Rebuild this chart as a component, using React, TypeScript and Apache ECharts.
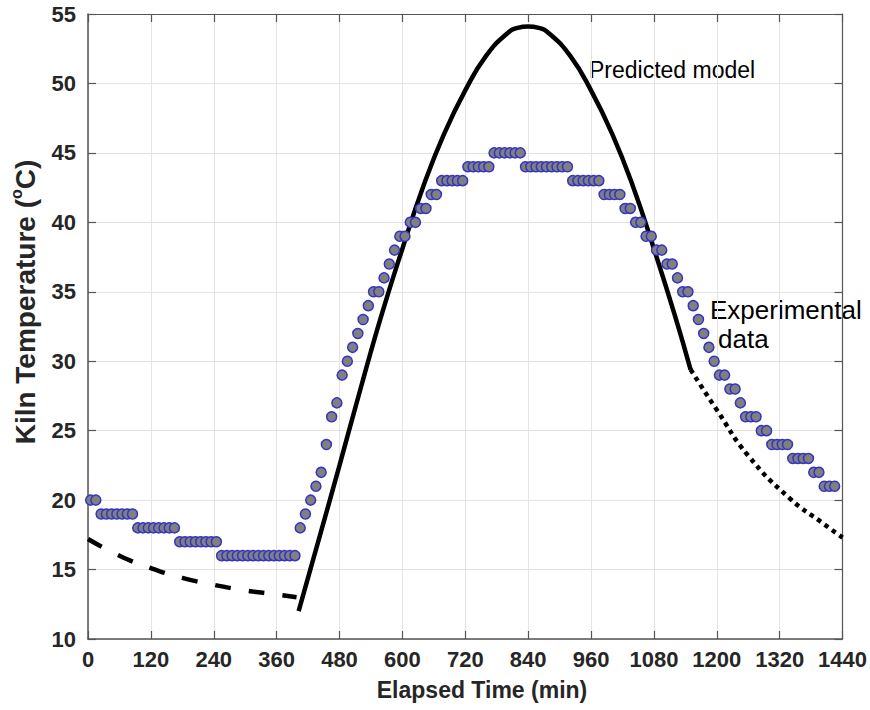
import React, { useEffect, useRef } from "react";
import * as echarts from "echarts";

// Experimental data: sampled every 10 min, first sample at 5 min
const FIRST_MIN = 5;
const STEP_MIN = 10;
const expTemps = [
  20, 20,
  19, 19, 19, 19, 19, 19, 19,
  18, 18, 18, 18, 18, 18, 18, 18,
  17, 17, 17, 17, 17, 17, 17, 17,
  16, 16, 16, 16, 16, 16, 16, 16, 16, 16, 16, 16, 16, 16, 16,
  18, 19, 20, 21, 22, 24, 26, 27, 29, 30, 31, 32, 33, 34, 35, 35, 36, 37, 38, 39, 39, 40, 40, 41, 41, 42, 42,
  43, 43, 43, 43, 43,
  44, 44, 44, 44, 44,
  45, 45, 45, 45, 45, 45,
  44, 44, 44, 44, 44, 44, 44, 44, 44,
  43, 43, 43, 43, 43, 43,
  42, 42, 42, 42,
  41, 41, 40, 40, 39, 39, 38, 38, 37, 37, 36, 35, 35, 34, 33, 32, 31, 30, 29, 29, 28, 28, 27,
  26, 26, 26, 25, 25,
  24, 24, 24, 24,
  23, 23, 23, 23,
  22, 22,
  21, 21, 21,
];

// Predicted model, three pieces
const modelEarlyTimes = [0, 60, 120, 180, 240, 300, 360, 398];
const modelEarlyTemps = [17.2, 16.0, 15.1, 14.4, 13.9, 13.5, 13.2, 13.0];

const modelMainTimes = [402, 440, 480, 520, 560, 600, 640, 680, 720, 760, 800, 820, 840, 860, 880, 920, 960, 1000, 1040, 1080, 1120, 1150];
const modelMainTemps = [12.0, 17.1, 22.5, 28.0, 33.3, 38.1, 42.6, 46.4, 49.5, 52.0, 53.6, 54.0, 54.1, 54.0, 53.6, 52.0, 49.5, 46.4, 42.6, 38.1, 33.3, 29.4];

const modelLateTimes = [1150, 1200, 1260, 1340, 1400, 1440];
const modelLateTemps = [29.4, 26.5, 23.2, 20.1, 18.4, 17.3];

const xMin = 0, xMax = 1440, xStep = 120;
const yMin = 10, yMax = 55, yStep = 5;

const pairs = (xs: number[], ys: number[]) => xs.map((x, i) => [x, ys[i]]);

export default function App() {
  const ref = useRef<HTMLDivElement>(null);
  useEffect(() => {
    if (!ref.current) return;
    const chart = echarts.init(ref.current, undefined, { renderer: "svg" });
    const axisColor = "#555555";
    const gridColor = "#e3e3e3";
    const fam = "'Liberation Sans', Arial, Helvetica, sans-serif";
    const tickFont = { fontFamily: fam, fontWeight: "bold" as const, fontSize: 22, color: "#262626" };
    chart.setOption({
      animation: false,
      backgroundColor: "#ffffff",
      grid: { left: 88, right: 26, top: 14, bottom: 71, containLabel: false },
      xAxis: [
        {
          type: "value", min: xMin, max: xMax, interval: xStep,
          axisLine: { show: true, lineStyle: { color: axisColor, width: 1.5 } },
          axisTick: { show: true, inside: true, length: 8, lineStyle: { color: axisColor, width: 1.2 } },
          axisLabel: { ...tickFont, margin: 9, formatter: (v: number) => String(v) },
          splitLine: { show: true, lineStyle: { color: gridColor, width: 1 } },
        },
        {
          type: "value", position: "top", min: xMin, max: xMax, interval: xStep,
          axisLine: { show: true, onZero: false, lineStyle: { color: axisColor, width: 1.2 } },
          axisTick: { show: true, inside: true, length: 8, lineStyle: { color: axisColor, width: 1.2 } },
          axisLabel: { show: false }, splitLine: { show: false },
        },
      ],
      yAxis: [
        {
          type: "value", min: yMin, max: yMax, interval: yStep,
          axisLine: { show: true, lineStyle: { color: axisColor, width: 1.5 } },
          axisTick: { show: true, inside: true, length: 8, lineStyle: { color: axisColor, width: 1.2 } },
          axisLabel: { ...tickFont, margin: 12, formatter: (v: number) => String(v) },
          splitLine: { show: true, lineStyle: { color: gridColor, width: 1 } },
        },
        {
          type: "value", position: "right", min: yMin, max: yMax, interval: yStep,
          axisLine: { show: true, onZero: false, lineStyle: { color: axisColor, width: 1.2 } },
          axisTick: { show: true, inside: true, length: 8, lineStyle: { color: axisColor, width: 1.2 } },
          axisLabel: { show: false }, splitLine: { show: false },
        },
      ],
      series: [
        {
          type: "line", name: "Model (early)", data: pairs(modelEarlyTimes, modelEarlyTemps),
          smooth: true, showSymbol: false, z: 3,
          lineStyle: { color: "#000000", width: 4.5, type: [16, 18] },
        },
        {
          type: "line", name: "Predicted model", data: pairs(modelMainTimes, modelMainTemps),
          smooth: true, showSymbol: false, z: 3,
          lineStyle: { color: "#000000", width: 4.5, type: "solid" },
        },
        {
          type: "line", name: "Model (late)", data: pairs(modelLateTimes, modelLateTemps),
          smooth: true, showSymbol: false, z: 3,
          lineStyle: { color: "#000000", width: 4.5, type: [4.5, 4.5] },
        },
        {
          type: "scatter", name: "Experimental data",
          data: expTemps.map((v, i) => [FIRST_MIN + STEP_MIN * i, v]),
          symbol: "circle", symbolSize: 10, z: 4,
          itemStyle: { color: "#808080", borderColor: "#3434c4", borderWidth: 1.5, opacity: 1 },
        },
      ],
      graphic: [
        {
          type: "text", x: 482, y: 690,
          style: { text: "Elapsed Time (min)", font: `bold 23px ${fam}`, fill: "#262626", align: "center", verticalAlign: "middle" },
        },
        {
          type: "text", x: 25, y: 302, rotation: Math.PI / 2,
          style: {
            text: "{a|Kiln Temperature (}{s|o}{a|C)}",
            align: "center", verticalAlign: "middle",
            rich: {
              a: { fontFamily: fam, fontWeight: "bold", fontSize: 28, lineHeight: 34, fill: "#262626" },
              s: { fontFamily: fam, fontWeight: "bold", fontSize: 16, lineHeight: 34, verticalAlign: "top", fill: "#262626" },
            },
          },
        },
        {
          type: "text", x: 589, y: 70,
          style: { text: "Predicted model", font: `23px ${fam}`, fill: "#000000", align: "left", verticalAlign: "middle" },
        },
        {
          type: "text", x: 710, y: 310,
          style: { text: "Experimental", font: `26px ${fam}`, fill: "#000000", align: "left", verticalAlign: "middle" },
        },
        {
          type: "text", x: 718, y: 339,
          style: { text: "data", font: `26px ${fam}`, fill: "#000000", align: "left", verticalAlign: "middle" },
        },
      ],
    });
    return () => chart.dispose();
  }, []);
  return (
    <div
      ref={ref}
      style={{ position: "fixed", left: 0, top: 0, width: 870, height: 710, background: "#ffffff" }}
    />
  );
}
